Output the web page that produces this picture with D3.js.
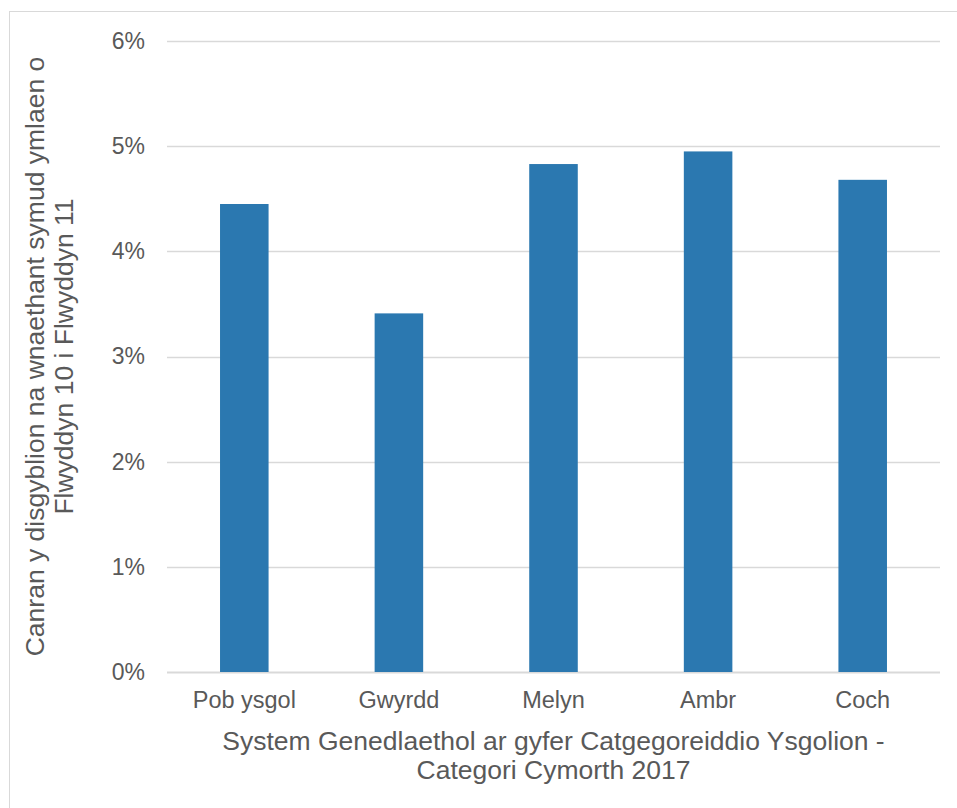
<!DOCTYPE html>
<html>
<head>
<meta charset="utf-8">
<script src="https://cdn.jsdelivr.net/npm/d3@7"></script>
<style>
  body { margin: 0; background: #fff; }
  text { font-family: Arial, "Liberation Sans", sans-serif; fill: #595959; }
</style>
</head>
<body>
<div id="chart"></div>
<script>
// categories and values (percent of pupils)
var categories = ["Pob ysgol", "Gwyrdd", "Melyn", "Ambr", "Coch"];
var values = [0.0445, 0.0341, 0.0483, 0.0495, 0.0468];
var yTicks = [0, 0.01, 0.02, 0.03, 0.04, 0.05, 0.06];
var xTitle = ["System Genedlaethol ar gyfer Catgegoreiddio Ysgolion -", "Categori Cymorth 2017"];
var yTitle = ["Canran y disgyblion na wnaethant symud ymlaen o", "Flwyddyn 10 i Flwyddyn 11"];

var svg = d3.select("#chart").append("svg").attr("width", 957).attr("height", 808),
    margin = {top: 41, right: 17, bottom: 136, left: 167},
    width = 957 - margin.left - margin.right,
    height = 808 - margin.top - margin.bottom;

// outer chart border
svg.append("rect")
    .attr("x", 9.5).attr("y", 11.5)
    .attr("width", 960).attr("height", 820)
    .attr("fill", "none").attr("stroke", "#d9d9d9");

var g = svg.append("g").attr("transform", "translate(" + margin.left + "," + margin.top + ")");

var x = d3.scaleBand().domain(categories).range([0, width]).paddingInner(0.686).paddingOuter(0.343),
    y = d3.scaleLinear().domain([0, 0.06]).range([height, 0]);

// gridlines
g.selectAll(".grid")
    .data(yTicks)
    .enter().append("line")
    .attr("class", "grid")
    .attr("x1", 0).attr("x2", width)
    .attr("y1", function(d) { return Math.round(y(d)) + 0.5; })
    .attr("y2", function(d) { return Math.round(y(d)) + 0.5; })
    .attr("stroke", "#d9d9d9")
    .attr("stroke-width", function(d) { return d === 0 ? 2 : 1.3; });

g.selectAll(".bar")
    .data(values)
    .enter().append("rect")
    .attr("class", "bar")
    .attr("x", function(d, i) { return x(categories[i]); })
    .attr("y", function(d) { return y(d); })
    .attr("width", x.bandwidth())
    .attr("height", function(d) { return height - y(d); })
    .attr("fill", "#2b78b0");

var yAxis = g.append("g")
    .call(d3.axisLeft(y).tickValues(yTicks).tickFormat(d3.format(".0%")).tickSize(0).tickPadding(22));
yAxis.select(".domain").remove();
yAxis.selectAll("text").style("font-size", "23px").attr("fill", "#595959");

var xAxis = g.append("g")
    .attr("transform", "translate(0," + height + ")")
    .call(d3.axisBottom(x).tickSize(0).tickPadding(19));
xAxis.select(".domain").remove();
xAxis.selectAll("text").style("font-size", "23.5px").attr("fill", "#595959");

// axis titles
svg.selectAll(".xtitle")
    .data(xTitle)
    .enter().append("text")
    .attr("class", "xtitle")
    .attr("x", margin.left + width / 2)
    .attr("y", function(d, i) { return 750 + i * 29; })
    .attr("text-anchor", "middle")
    .style("font-size", "26.5px")
    .text(function(d) { return d; });

svg.selectAll(".ytitle")
    .data(yTitle)
    .enter().append("text")
    .attr("class", "ytitle")
    .attr("transform", function(d, i) { return "translate(" + (44 + i * 29) + "," + (margin.top + height / 2) + ") rotate(-90)"; })
    .attr("text-anchor", "middle")
    .style("font-size", "26.5px")
    .text(function(d) { return d; });
</script>
</body>
</html>
